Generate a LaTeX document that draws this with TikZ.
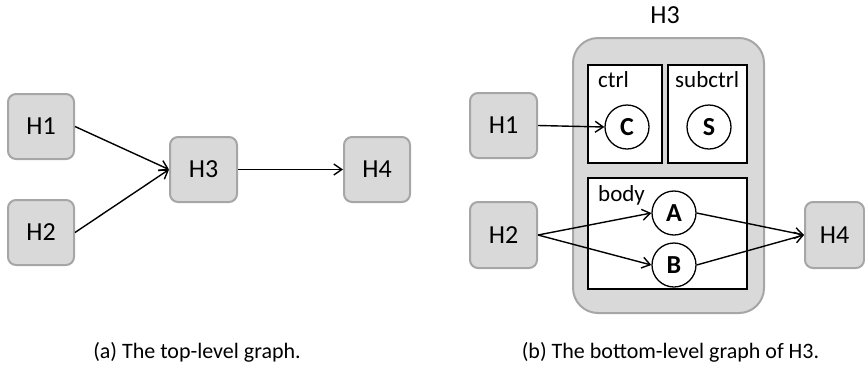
\documentclass[tikz,border=0pt]{standalone}
\usepackage{fontspec}
\setmainfont{Carlito}
\usetikzlibrary{arrows.meta}

\definecolor{boxfill}{HTML}{D9D9D9}
\definecolor{boxline}{HTML}{A6A6A6}

\tikzset{
  hbox/.style={draw=boxline, line width=2pt, fill=boxfill, rounded corners=8pt,
    minimum width=66pt, minimum height=65pt, inner sep=0pt,
    font=\fontsize{26}{30}\selectfont},
  state/.style={circle, draw=black, line width=1.3pt, fill=white,
    minimum size=44pt, inner sep=0pt, font=\fontsize{26}{28}\selectfont\bfseries},
  region/.style={draw=black, line width=1.3pt, fill=white},
  tag/.style={anchor=west, inner sep=0pt, font=\fontsize{23}{26}\selectfont},
  caption/.style={inner sep=0pt, font=\fontsize{22}{25}\selectfont},
  flow/.style={line width=1.4pt, -{Straight Barb[length=8pt,width=11pt,line width=1.4pt]}},
}

\begin{document}
\begin{tikzpicture}[x=1pt, y=-1pt]
  \useasboundingbox (0,0) rectangle (865,365);

  % (a) top-level graph
  \node[hbox] (a1) at (41,126.5) {H1};
  \node[hbox] (a2) at (41,232.5) {H2};
  \node[hbox, minimum width=67pt] (a3) at (203.5,169.5) {H3};
  \node[hbox] (a4) at (377,169.5) {H4};
  \draw[flow] (a1.east) -- (a3.west);
  \draw[flow] (a2.east) -- (a3.west);
  \draw[flow] (a3.east) -- (a4.west);
  \node[caption] (capa) at (197,352) {(a) The top-level graph.};

  % (b) bottom-level graph of H3
  \node[inner sep=0pt, font=\fontsize{26}{30}\selectfont] (h3title) at (665,15) {H3};
  \draw[draw=boxline, line width=2pt, fill=boxfill, rounded corners=25pt]
    (573,38) rectangle (764,313);
  \draw[region] (588,65) rectangle (662,163);
  \draw[region] (668,65) rectangle (747,163);
  \draw[region] (588,178) rectangle (747,289);
  \node[tag] (ctrl) at (598,80) {ctrl};
  \node[tag] (subctrl) at (675,80) {subctrl};
  \node[tag] (body) at (598,195) {body};

  \node[state] (C) at (627,127) {C};
  \node[state] (S) at (709,127) {S};
  \node[state] (A) at (674,213) {A};
  \node[state] (B) at (674,265) {B};

  \node[hbox, minimum width=67pt] (b1) at (503.5,125.5) {H1};
  \node[hbox, minimum width=67pt, minimum height=66pt] (b2) at (503.5,235) {H2};
  \node[hbox, minimum width=59pt, minimum height=66pt] (b4) at (834.5,235) {H4};

  \draw[flow] (b1.east) -- (C.west);
  \draw[flow] (b2.east) -- (A.west);
  \draw[flow] (b2.east) -- (B.west);
  \draw[flow] (A.east) -- (b4.west);
  \draw[flow] (B.east) -- (b4.west);

  \node[caption] (capb) at (670.5,352) {(b) The bottom-level graph of H3.};
\end{tikzpicture}
\end{document}
